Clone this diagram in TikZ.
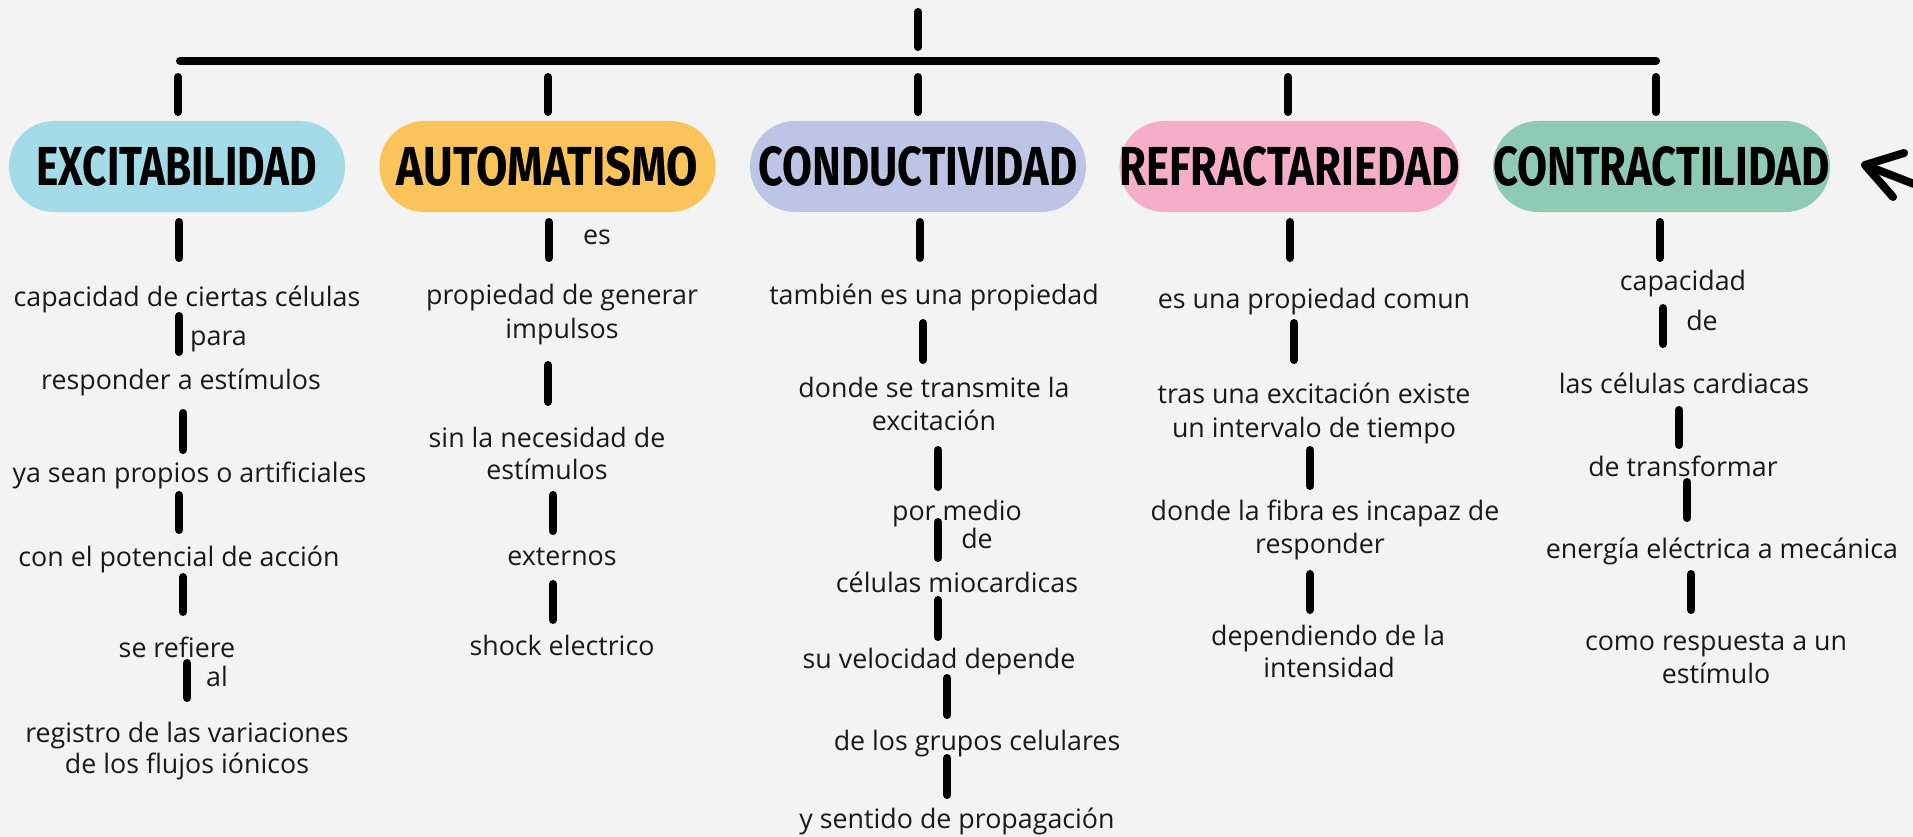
\documentclass[tikz,border=0pt]{standalone}
\usepackage{fontspec}
\setmainfont{Open Sans}
\newfontfamily\titlefont{Fira Sans}
\usepackage{graphicx}
\definecolor{bgc}{HTML}{F3F3F3}
\definecolor{cexc}{HTML}{A3DCE8}
\definecolor{caut}{HTML}{FBC45A}
\definecolor{ccon}{HTML}{BEC4E5}
\definecolor{cref}{HTML}{F6AEC8}
\definecolor{ctra}{HTML}{8ECBB2}
\newcommand{\pilltitle}[2]{\resizebox{#1pt}{39pt}{\titlefont\bfseries #2}}
\tikzset{
  bar/.style={line width=8pt, line cap=round, black},
  pill/.style={rounded corners=45pt, minimum width=336pt, minimum height=91pt, inner sep=0pt},
  txt/.style={anchor=base, inner sep=0pt, font=\fontsize{26.8}{33}\selectfont, text=black!90},
  txtl/.style={txt, anchor=base west},
}
\begin{document}
\begin{tikzpicture}[x=1pt,y=-1pt]
\fill[bgc] (0,0) rectangle (1913,837);
\useasboundingbox (0,0) rectangle (1913,837);

% top structure
\coordinate (top1) at (918,12);
\coordinate (top2) at (918,47);
\coordinate (hl) at (180,61);
\coordinate (hr) at (1656,61);
\draw[bar] (top1) -- (top2);
\draw[bar] (hl) -- (hr);
\foreach \x in {178,548,918,1288,1656}{\draw[bar] (\x,77) -- (\x,112);}

% pills
\node[pill, fill=cexc] (p1) at (177,166.5) {\pilltitle{281}{EXCITABILIDAD}};
\node[pill, fill=caut] (p2) at (547.5,166.5) {\pilltitle{301}{AUTOMATISMO}};
\node[pill, fill=ccon] (p3) at (918,166.5) {\pilltitle{319}{CONDUCTIVIDAD}};
\node[pill, fill=cref] (p4) at (1289.5,166.5) {\pilltitle{340}{REFRACTARIEDAD}};
\node[pill, fill=ctra] (p5) at (1661.5,166.5) {\pilltitle{337}{CONTRACTILIDAD}};

% arrow at right
\coordinate (tip) at (1865,165);
\coordinate (armA) at (1904,153);
\coordinate (armB) at (1893,197);
\coordinate (shaft) at (1914,184);
\draw[bar, line join=round] (armA) -- (tip) -- (armB);
\draw[bar] (tip) -- (shaft);

% bars under pills
\draw[bar] (179,222) -- (179,258);
\draw[bar] (549,222) -- (549,258);
\draw[bar] (920,222) -- (920,258);
\draw[bar] (1290,222) -- (1290,258);
\draw[bar] (1660,222) -- (1660,258);

% column 1
\node[txt] (a1) at (187,306) {capacidad de ciertas células};
\draw[bar] (179,316) -- (179,352);
\node[txtl] (a1l) at (190,345) {para};
\node[txt] (a2) at (181,389) {responder a estímulos};
\draw[bar] (183,413) -- (183,450);
\node[txt] (a3) at (189.5,482) {ya sean propios o artificiales};
\draw[bar] (179,495) -- (179,530);
\node[txt] (a4) at (179,566) {con el potencial de acción};
\draw[bar] (183,577) -- (183,612);
\node[txt] (a5) at (177,657) {se refiere};
\draw[bar] (187,663) -- (187,698);
\node[txtl] (a5l) at (206,686) {al};
\node[txt] (a6) at (187,742) {registro de las variaciones};
\node[txt] (a6b) at (187,773) {de los flujos iónicos};

% column 2
\node[txtl] (b0l) at (583,244) {es};
\node[txt] (b1) at (562,304) {propiedad de generar};
\node[txt] (b1b) at (562,338) {impulsos};
\draw[bar] (548,365) -- (548,402);
\node[txt] (b2) at (547,447) {sin la necesidad de};
\node[txt] (b2b) at (547,479) {estímulos};
\draw[bar] (553,495) -- (553,531);
\node[txt] (b3) at (562,565) {externos};
\draw[bar] (553,584) -- (553,620);
\node[txt] (b4) at (562,655) {shock electrico};

% column 3
\node[txt] (c1) at (934,304) {también es una propiedad};
\draw[bar] (923,323) -- (923,360);
\node[txt] (c2) at (934,397) {donde se transmite la};
\node[txt] (c2b) at (934,430) {excitación};
\draw[bar] (938,450) -- (938,487);
\node[txt] (c3) at (957,520) {por medio};
\draw[bar] (938,522) -- (938,558);
\node[txt] (c3l) at (977,548) {de};
\node[txt] (c4) at (957,592) {células miocardicas};
\draw[bar] (938,600) -- (938,637);
\node[txt] (c5) at (939,668) {su velocidad depende};
\draw[bar] (947,678) -- (947,715);
\node[txt] (c6) at (977,750) {de los grupos celulares};
\draw[bar] (947,758) -- (947,795);
\node[txt] (c7) at (957,828) {y sentido de propagación};

% column 4
\node[txt] (d1) at (1314,308) {es una propiedad comun};
\draw[bar] (1294,323) -- (1294,360);
\node[txt] (d2) at (1314,403) {tras una excitación existe};
\node[txt] (d2b) at (1314,437) {un intervalo de tiempo};
\draw[bar] (1310,450) -- (1310,486);
\node[txt] (d3) at (1325,520) {donde la fibra es incapaz de};
\node[txt] (d3b) at (1320,553) {responder};
\draw[bar] (1310,574) -- (1310,610);
\node[txt] (d4) at (1328,645) {dependiendo de la};
\node[txt] (d4b) at (1329,677) {intensidad};

% column 5
\node[txt] (e1) at (1683,290) {capacidad};
\draw[bar] (1663,308) -- (1663,344);
\node[txt] (e1l) at (1702,330) {de};
\node[txt] (e2) at (1684,393) {las células cardiacas};
\draw[bar] (1679,410) -- (1679,445);
\node[txt] (e3) at (1683,476) {de transformar};
\draw[bar] (1687,482) -- (1687,518);
\node[txt] (e4) at (1722,558) {energía eléctrica a mecánica};
\draw[bar] (1691,574) -- (1691,610);
\node[txt] (e5) at (1716,650) {como respuesta a un};
\node[txt] (e5b) at (1716,683) {estímulo};
\end{tikzpicture}
\end{document}
